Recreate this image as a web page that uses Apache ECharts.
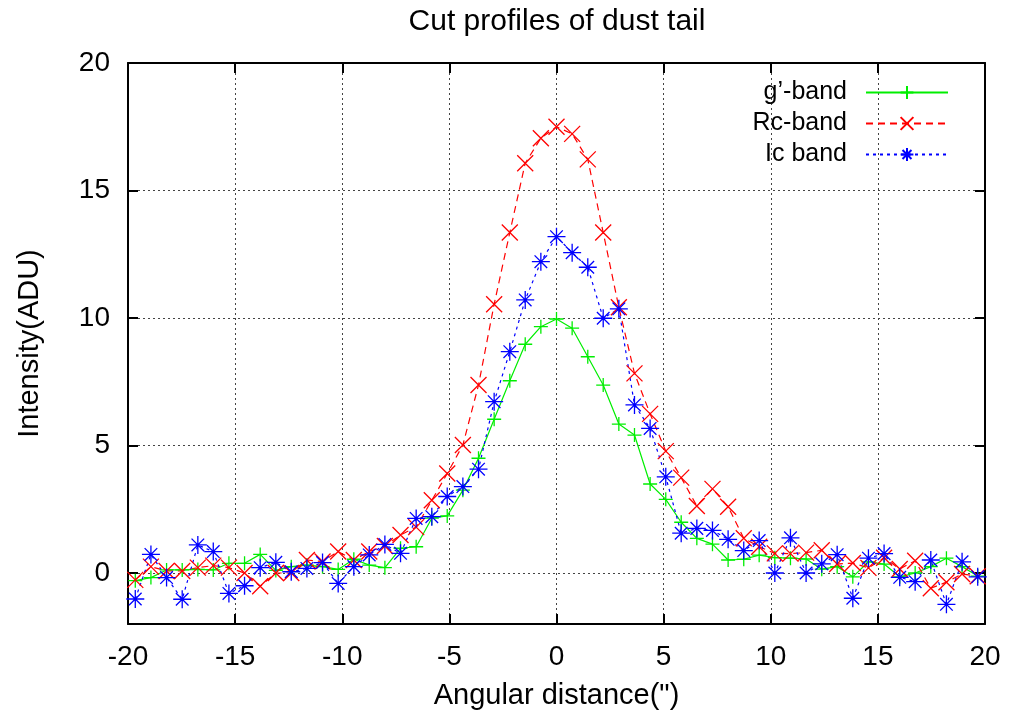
<!DOCTYPE html>
<html><head><meta charset="utf-8">
<script src="https://cdn.jsdelivr.net/npm/echarts@6/dist/echarts.min.js"></script>
<style>html,body{margin:0;padding:0;background:#fff}#c{width:1012px;height:721px}</style>
</head><body><div id="c"></div>
<script>
const xs = [-19.66,-18.93,-18.20,-17.47,-16.74,-16.02,-15.29,-14.56,-13.83,-13.10,-12.38,-11.65,-10.92,-10.19,-9.46,-8.74,-8.01,-7.28,-6.55,-5.82,-5.10,-4.37,-3.64,-2.91,-2.18,-1.46,-0.73,0,
0.73,1.46,2.18,2.91,3.64,4.37,5.10,5.82,6.55,7.28,8.01,8.74,9.46,10.19,10.92,11.65,12.38,13.10,13.83,14.56,15.29,16.02,16.74,17.47,18.20,18.93,19.66];
const gBand = [-0.3,-0.18,0.12,0.12,0.14,0.12,0.38,0.38,0.73,0.1,0.25,0.31,0.25,0.14,0.54,0.31,0.21,0.97,1.03,2.15,2.24,3.25,4.5,6.03,7.54,8.97,9.66,9.96,
9.6,8.48,7.37,5.84,5.41,3.49,2.89,1.99,1.36,1.13,0.51,0.54,0.7,0.6,0.58,0.55,0.15,0.25,-0.15,0.44,0.35,-0.15,0.0,0.25,0.58,0.25,-0.12];
const rcBand = [-0.27,0.25,0.08,0.08,0.21,0.29,0.21,0.0,-0.52,0.0,0.0,0.51,0.45,0.84,0.51,0.84,1.06,1.49,1.8,2.85,3.9,5.02,7.37,10.54,13.35,16.07,17.05,17.5,
17.22,16.22,13.35,10.42,7.83,6.24,4.78,3.74,2.63,3.3,2.6,1.36,1.03,0.77,0.76,0.8,0.89,0.35,0.39,0.2,0.6,0.16,0.48,-0.6,-0.36,-0.04,-0.13];
const icBand = [-1.02,0.73,-0.18,-1.03,1.1,0.84,-0.8,-0.5,0.21,0.42,0.05,0.18,0.41,-0.41,0.25,0.71,1.12,0.77,2.14,2.21,3.0,3.39,4.07,6.72,8.68,10.71,12.21,13.19,
12.56,11.99,9.99,10.36,6.59,5.67,3.77,1.56,1.75,1.67,1.32,0.88,1.27,0.0,1.38,0.0,0.36,0.72,-0.99,0.58,0.76,-0.17,-0.34,0.51,-1.23,0.44,-0.15];
const names = ["g\u2019-band","Rc-band","Ic band"];
const titleText = "Cut profiles of dust tail";
const xName = "Angular distance(\")";
const yName = "Intensity(ADU)";

const FONT = "Liberation Sans";
const pair = (ys) => xs.map((x,i)=>[x, ys[i]]);
const plusSym = 'path://M0,-1L0,1M-1,0L1,0';
const crossSym = 'path://M-1,-1L1,1M-1,1L1,-1';
const starSym = 'path://M0,-1L0,1M-1,0L1,0M-0.7,-0.7L0.7,0.7M-0.7,0.7L0.7,-0.7';

const chart = echarts.init(document.getElementById('c'), null, {renderer:'canvas'});
const gridLine = {show:true, lineStyle:{color:'#444', type:[2,3], width:1}};
const baseAxis = {
  axisLine:{show:true, onZero:false, lineStyle:{color:'#000', width:2}},
  axisTick:{show:true, inside:true, length:10, lineStyle:{color:'#000', width:2}},
};
function mkSeries(name, ys, color, dash, sym, size){
  return {name, type:'line', data:pair(ys), symbol:sym, symbolSize:size,
    lineStyle:{color, width:1.2, type:dash},
    itemStyle:{color, borderColor:color, borderWidth:1.3},
    emphasis:{disabled:true}, z:3};
}
const legendCommon = (name, top) => ({
  data:[name], right:58, top, align:'right', itemWidth:82, itemHeight:16,
  textStyle:{fontFamily:FONT, fontSize:25, color:'#000', padding:[0,14,0,0]}, selectedMode:false
});
chart.setOption({
  animation:false,
  backgroundColor:'#fff',
  graphic:[{type:'text', x:557, y:22, style:{text:titleText, align:'center', verticalAlign:'middle',
    font:'30px "Liberation Sans"', fill:'#000'}}],
  legend:[legendCommon(names[0],75), legendCommon(names[1],106), legendCommon(names[2],137)],
  grid:{left:128, right:27, top:63, bottom:97},
  xAxis:[
    Object.assign({type:'value', min:-20, max:20, interval:5, position:'bottom',
      name:xName, nameLocation:'middle', nameGap:57,
      nameTextStyle:{fontFamily:FONT, fontSize:29, color:'#000'},
      axisLabel:{fontFamily:FONT, fontSize:28, color:'#000', margin:19},
      splitLine:gridLine}, baseAxis),
    Object.assign({type:'value', min:-20, max:20, interval:5, position:'top',
      axisLabel:{show:false}, splitLine:{show:false}}, baseAxis)
  ],
  yAxis:[
    Object.assign({type:'value', min:-2, max:20, position:'left',
      name:yName, nameLocation:'middle', nameGap:84,
      nameTextStyle:{fontFamily:FONT, fontSize:29, color:'#000'},
      axisLabel:{fontFamily:FONT, fontSize:28, color:'#000', margin:18, customValues:[0,5,10,15,20]},
      axisTick:{show:true, inside:true, length:10, lineStyle:{color:'#000', width:2}, customValues:[0,5,10,15,20]},
      splitLine:gridLine}, {axisLine:baseAxis.axisLine}),
    Object.assign({type:'value', min:-2, max:20, position:'right',
      axisLabel:{show:false}, splitLine:{show:false},
      axisTick:{show:true, inside:true, length:10, lineStyle:{color:'#000', width:2}, customValues:[0,5,10,15,20]}}, {axisLine:baseAxis.axisLine})
  ],
  series:[
    mkSeries(names[0], gBand, '#00ee00', 'solid', plusSym, 14),
    mkSeries(names[1], rcBand, '#ff0000', [7,5], crossSym, 16),
    mkSeries(names[2], icBand, '#0000ff', [3,4], starSym, 18)
  ]
});
</script></body></html>
